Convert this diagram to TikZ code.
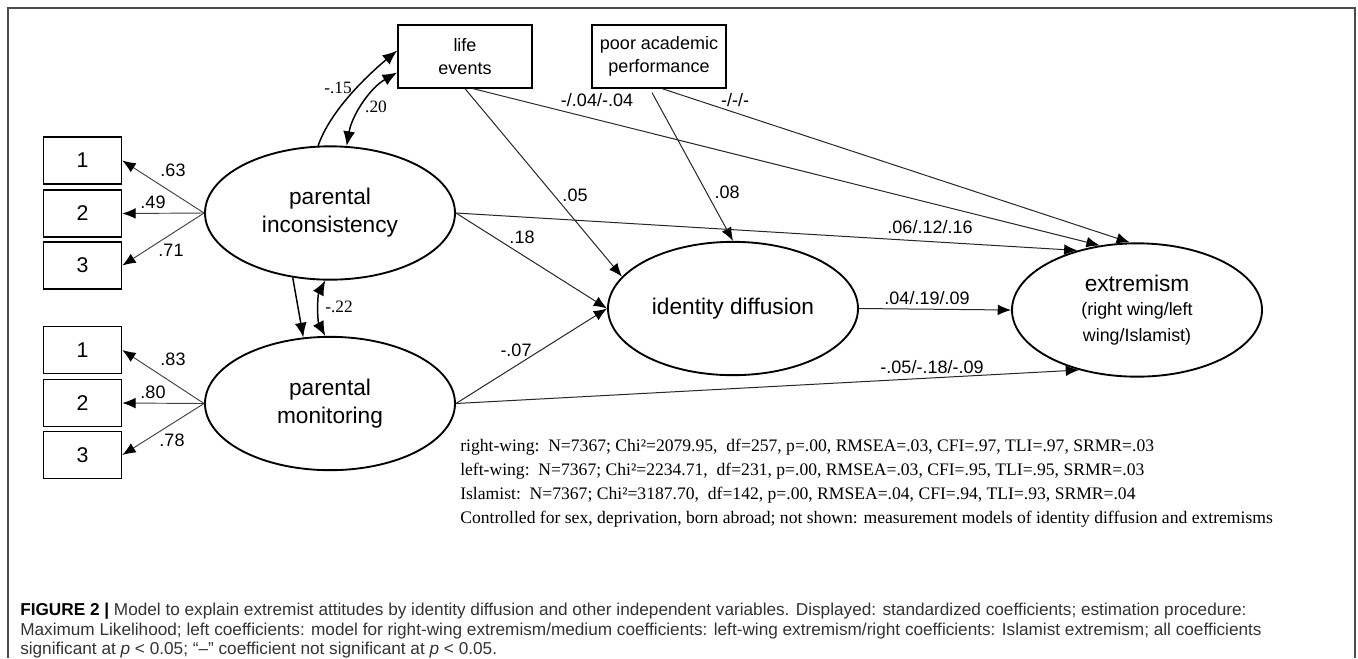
\documentclass[tikz,border=0pt]{standalone}
\usepackage{fontspec}
\setmainfont{Liberation Serif}
\setsansfont{Liberation Sans}
\usetikzlibrary{shapes.geometric,arrows.meta,calc}

\begin{document}
\begin{tikzpicture}[x=0.75pt,y=0.75pt,yscale=-1,xscale=1,
    latent/.style={ellipse, draw, line width=1.4pt, minimum width=187.5pt, minimum height=100pt, inner sep=0pt, align=center, font=\sffamily\fontsize{17}{21}\selectfont},
    indicator/.style={draw, line width=1.2pt, minimum width=58.5pt, minimum height=35pt, inner sep=0pt, font=\sffamily\fontsize{16}{19}\selectfont},
    observed/.style={draw, line width=1.2pt, minimum width=100.5pt, minimum height=47pt, inner sep=0pt, align=center, font=\sffamily\fontsize{13.5}{17}\selectfont},
    load/.style={draw=black!75, line width=0.7pt, -{Latex[length=10pt,width=8pt,color=black]}},
    effect/.style={draw=black!85, line width=0.75pt, -{Latex[length=10pt,width=8pt,color=black]}},
    curved/.style={draw=black, line width=1.1pt},
    coef/.style={inner sep=0pt, font=\sffamily\fontsize{13.5}{16}\selectfont},
    scoef/.style={inner sep=0pt, font=\fontsize{13}{15}\selectfont},
    captext/.style={anchor=base west, inner sep=0pt, text=black!80, font=\sffamily\fontsize{12.9}{15}\selectfont}]
    \useasboundingbox (0,0) rectangle (1358,658);
    %frame
    \draw [gray!60!black, line width=1pt] (8,658) -- (8,8) -- (1355,8) -- (1355,658);
    %
    %latent variables
    \node [latent] (pi) at (330,213) {parental\\inconsistency};
    \node [latent] (pm) at (330,403.5) {parental\\monitoring};
    \node [latent] (id) at (733,308.5) {identity diffusion};
    \node [latent] (ext) at (1137,310) {extremism\\[-3pt]{\fontsize{13.4}{15}\selectfont (right wing/left}\\[-2pt]{\fontsize{13.4}{15}\selectfont wing/Islamist)}};
    %indicators
    \node [indicator] (a1) at (82.5,160.5) {1};
    \node [indicator] (a2) at (82.5,213.5) {2};
    \node [indicator] (a3) at (82.5,265.5) {3};
    \node [indicator] (b1) at (82.5,350) {1};
    \node [indicator] (b2) at (82.5,403) {2};
    \node [indicator] (b3) at (82.5,455) {3};
    %other variables
    \node [observed] (le) at (465,56.5) {life\\events};
    \node [observed] (pap) at (659,56.5) {poor academic\\performance};
    %
    %loadings
    \foreach \i in {1,2,3} {
        \draw [load] (pi.west) -- (a\i.east);
        \draw [load] (pm.west) -- (b\i.east);
    }
    \node [coef] (c63) at (173,170) {.63};
    \node [coef] (c49) at (153,202) {.49};
    \node [coef] (c71) at (171,250) {.71};
    \node [coef] (c83) at (173,359) {.83};
    \node [coef] (c80) at (153,392) {.80};
    \node [coef] (c78) at (172,440) {.78};
    %
    %parental inconsistency and life events
    \draw [curved, -{Latex[length=11pt,width=9pt]}] (pi.100) .. controls +(12,-35) and +(-30,25) .. ($(le.west)+(0,-6)$);
    \draw [curved, {Latex[length=11pt,width=9pt]}-{Latex[length=11pt,width=9pt]}] (pi.76) .. controls +(5,-30) and +(-28,16) .. ($(le.west)+(0,16)$);
    \node [scoef] (c15) at (338,88) {-.15};
    \node [scoef] (c20) at (376,107) {.20};
    %
    %parental inconsistency and monitoring
    \draw [curved, -{Latex[length=11pt,width=9pt]}] (pi.240) -- (pm.112);
    \draw [curved, {Latex[length=11pt,width=9pt]}-{Latex[length=11pt,width=9pt]}] (pi.266) .. controls +(-8,15) and +(-8,-15) .. (pm.94);
    \node [scoef] (c22) at (339,307) {-.22};
    %
    %paths
    \draw [effect] (le.south) -- (id.164);
    \draw [effect] ($(le.south)+(8,0)$) -- (ext.120);
    \draw [effect] ($(pap.south)+(-7,4)$) -- (id.north);
    \draw [effect] ($(pap.south)+(3,0)$) -- (ext.96);
    \draw [effect] (pi.east) -- (id.west);
    \draw [effect] (pi.east) -- (ext.135);
    \draw [effect] (pm.east) -- (id.west);
    \draw [effect] (pm.east) -- (ext.226);
    \draw [effect] (id.east) -- (ext.west);
    \node [coef] (c05) at (575,195) {.05};
    \node [coef] (c08) at (727,192) {.08};
    \node [coef] (c18) at (522,237) {.18};
    \node [coef] (c07) at (516,350) {-.07};
    \node [coef] (cle) at (597,100) {-/.04/-.04};
    \node [coef] (cpap) at (735,100) {-/-/-};
    \node [coef] (cpi) at (930,227) {.06/.12/.16};
    \node [coef] (cid) at (927,298) {.04/.19/.09};
    \node [coef] (cpm) at (932,367) {-.05/-.18/-.09};
    %
    %fit
    \node [anchor=north west, inner sep=0pt, align=left, font=\fontsize{13.2}{18}\selectfont] (stats) at (460,439)
        {right-wing:\ \ N=7367; Chi²=2079.95,\ \ df=257, p=.00, RMSEA=.03, CFI=.97, TLI=.97, SRMR=.03\\
         left-wing:\ \ N=7367; Chi²=2234.71,\ \ df=231, p=.00, RMSEA=.03, CFI=.95, TLI=.95, SRMR=.03\\
         Islamist:\ \ N=7367; Chi²=3187.70,\ \ df=142, p=.00, RMSEA=.04, CFI=.94, TLI=.93, SRMR=.04\\
         Controlled for sex, deprivation, born abroad; not shown: measurement models of identity diffusion and extremisms};
    %
    %caption
    \node [captext] (cap1) at (20,615)
        {\textcolor{black}{\textbf{FIGURE 2 |}} Model to explain extremist attitudes by identity diffusion and other independent variables. Displayed: standardized coefficients; estimation procedure:};
    \node [captext] (cap2) at (20,635)
        {Maximum Likelihood; left coefficients: model for right-wing extremism/medium coefficients: left-wing extremism/right coefficients: Islamist extremism; all coefficients};
    \node [captext] (cap3) at (20,654)
        {significant at \textit{p} < 0.05; “–” coefficient not significant at \textit{p} < 0.05.};
\end{tikzpicture}
\end{document}
